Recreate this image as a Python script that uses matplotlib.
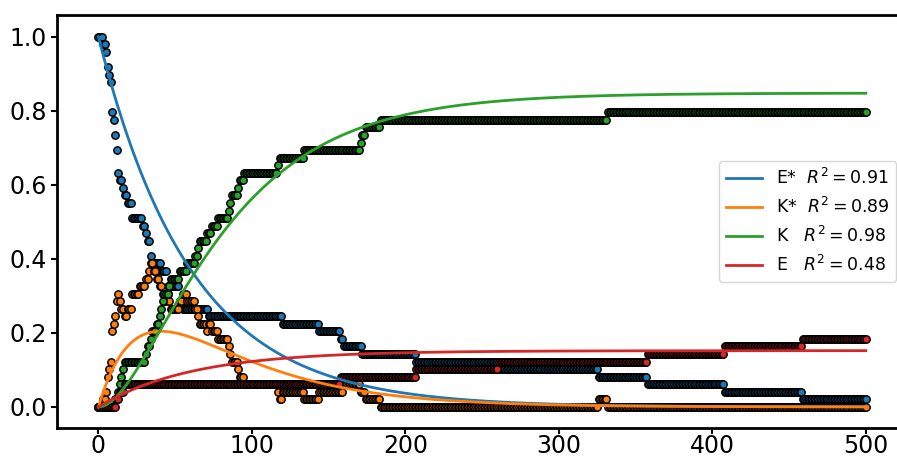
import numpy as np
import matplotlib.pyplot as plt

N_TOTAL = 49
T_END = 500

# stochastic run: plateau start times and molecule counts
estar_start = [0, 3, 5, 6, 7, 8, 9, 10, 11, 12, 13, 14, 16, 17, 19, 22, 29, 31, 32, 34, 35,
               41, 45, 53, 55, 72, 120, 144, 158, 160, 172, 207, 261, 326, 358, 408, 459]
estar_count = [49, 48, 47, 45, 44, 43, 39, 38, 36, 34, 31, 30, 29, 28, 27, 25, 24, 23, 22, 20, 19,
               18, 16, 14, 13, 12, 11, 10, 9, 8, 7, 6, 5, 4, 3, 2, 1]

kstar_start = [0, 3, 5, 6, 7, 8, 9, 10, 11, 12, 13, 14, 15, 17, 19, 22, 27, 31, 33, 34, 36, 38,
               40, 42, 43, 45, 46, 47, 53, 55, 58, 63, 65, 66, 71, 72, 74, 78, 85, 86, 87, 91,
               92, 95, 117, 118, 120, 134, 144, 160, 171, 174, 184, 326, 332]
kstar_count = [0, 1, 2, 4, 5, 6, 10, 11, 12, 14, 15, 14, 13, 12, 13, 15, 16, 17, 18, 19, 18, 17,
               16, 15, 14, 15, 14, 13, 14, 15, 14, 13, 12, 11, 10, 11, 10, 9, 8, 7, 6, 5,
               4, 3, 2, 1, 2, 1, 2, 3, 2, 1, 0, 1, 0]

k_start = [0, 11, 13, 14, 15, 16, 17, 31, 32, 34, 35, 38, 40, 41, 42, 43, 46, 47, 53, 58, 63,
           65, 66, 71, 74, 78, 85, 86, 87, 91, 92, 95, 117, 118, 134, 171, 172, 174, 184, 332]
k_count = [0, 1, 2, 3, 4, 5, 6, 7, 8, 9, 10, 11, 12, 13, 14, 15, 16, 17, 18, 19, 20,
           21, 22, 23, 24, 25, 26, 27, 28, 29, 30, 31, 32, 33, 34, 35, 36, 37, 38, 39]

e_start = [0, 12, 14, 17, 158, 207, 261, 358, 408, 459]
e_count = [0, 1, 2, 3, 4, 5, 6, 7, 8, 9]

# fitted rates
k_act = 0.0165     # E* decay
frac_e = 0.152     # fraction of E* ending as E
k_conv = 0.035     # K* -> K

labels = ['E*', 'K*', 'K', 'E']
r2 = [0.91, 0.89, 0.98, 0.48]
colors = ['tab:blue', 'tab:orange', 'tab:green', 'tab:red']


def plateaus(starts, counts, t):
    idx = np.searchsorted(starts, t, side='right') - 1
    return np.asarray(counts)[idx] / N_TOTAL


t = np.arange(0, T_END + 1)
series = [plateaus(estar_start, estar_count, t),
          plateaus(kstar_start, kstar_count, t),
          plateaus(k_start, k_count, t),
          plateaus(e_start, e_count, t)]

tf = np.linspace(0, T_END, 1000)
estar_fit = np.exp(-k_act * tf)
e_fit = frac_e * (1 - np.exp(-k_act * tf))
kstar_fit = (1 - frac_e) * k_act / (k_conv - k_act) * (np.exp(-k_act * tf) - np.exp(-k_conv * tf))
k_fit = 1 - estar_fit - e_fit - kstar_fit
fits = [estar_fit, kstar_fit, k_fit, e_fit]

fig = plt.figure(figsize=(8.97, 4.57), dpi=100)
ax = fig.add_axes([57 / 897, 29 / 457, 848 / 897, 413 / 457])

for y, c in zip(series, colors):
    ax.scatter(t, y, s=28, color=c, edgecolors='black', linewidths=1.05, zorder=1)

for y, c, name, r in zip(fits, colors, labels, r2):
    pad = '  ' if len(name) == 2 else '   '
    ax.plot(tf, y, color=c, lw=2, label=f"{name}{pad}$R^2 = {r:.2f}$", zorder=2)

ax.set_xlim(-27, 525.5)
ax.set_ylim(-0.057, 1.059)
ax.set_xticks([0, 100, 200, 300, 400, 500])
ax.set_yticks([0.0, 0.2, 0.4, 0.6, 0.8, 1.0])
ax.tick_params(labelsize=17, length=4, width=1.5)
ax.tick_params(axis='x', pad=0.5)
for s in ax.spines.values():
    s.set_linewidth(2)

ax.legend(loc='center right', fontsize=12.5, handlelength=2.1)

plt.savefig('out.png', dpi=100)
